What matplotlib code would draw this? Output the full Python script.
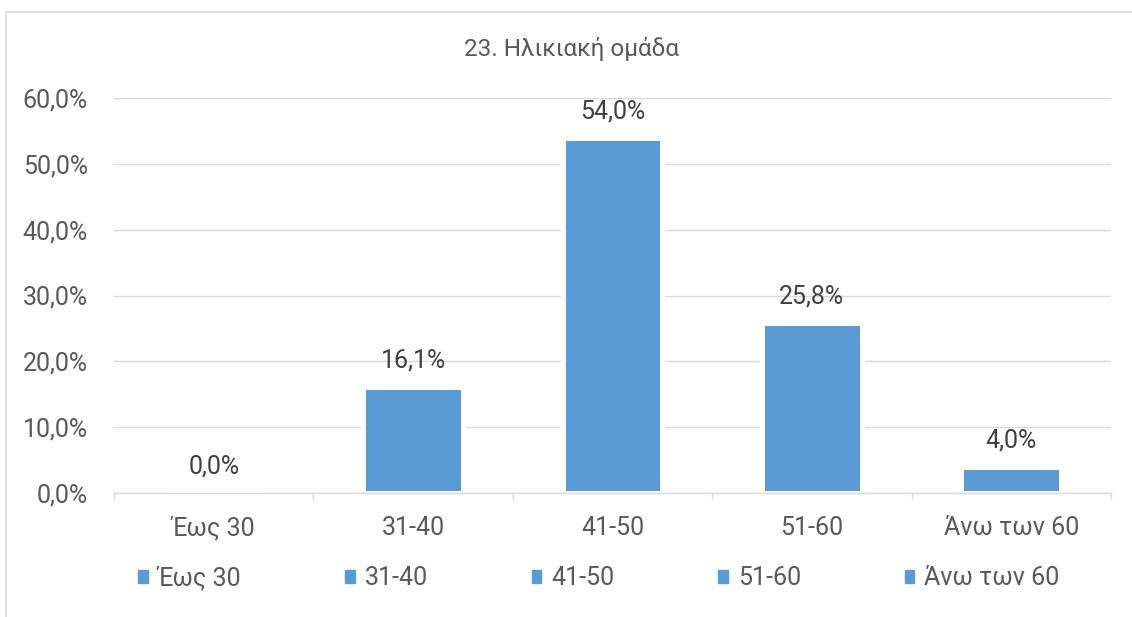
import matplotlib
matplotlib.use("Agg")
import matplotlib.pyplot as plt
import matplotlib.patches as mpatches
from matplotlib.ticker import FuncFormatter

plt.rcParams['font.family'] = ['Roboto', 'DejaVu Sans']

# age groups and share of respondents (%)
categories = ["Έως 30", "31-40", "41-50", "51-60", "Άνω των 60"]
values = [0.0, 16.1, 54.0, 25.8, 4.0]
y_ticks = [0, 10, 20, 30, 40, 50, 60]
title = "23. Ηλικιακή ομάδα"

BAR = "#5B9BD5"
GRID = "#D9D9D9"
TEXT = "#595959"
LABEL = "#404040"
FS = 18

W, H = 1132, 617
fig = plt.figure(figsize=(W / 100, H / 100), dpi=100)
ax = fig.add_axes([114 / W, 124 / H, (1111 - 114) / W, (519 - 124) / H])

# chart frame (only top and left edges fall inside the image)
frame = mpatches.Rectangle((6 / W, -0.1), 1.2, (1 - 12 / H) + 0.1,
                           transform=fig.transFigure, fill=False,
                           edgecolor=GRID, lw=1.1)
fig.add_artist(frame)

x = list(range(len(categories)))
ax.bar(x, values, width=0.5, color=BAR, edgecolor="white", linewidth=3.6, zorder=1)

for i, v in zip(x, values):
    ax.annotate(f"{v:.1f}%".replace(".", ","), xy=(i, v), xytext=(0, 19),
                textcoords="offset points", ha="center", va="center",
                fontsize=FS, color=LABEL)

ax.set_xlim(-0.5, len(categories) - 0.5)
ax.set_ylim(0, 60)
ax.set_yticks(y_ticks)
ax.yaxis.set_major_formatter(FuncFormatter(lambda v, _: f"{v:.1f}%".replace(".", ",")))
ax.yaxis.grid(True, color=GRID, lw=1.0)
ax.set_axisbelow(True)

ax.set_xticks(x)
ax.set_xticklabels(categories)
ax.set_xticks([i - 0.5 for i in range(len(categories) + 1)], minor=True)
ax.tick_params(axis="x", which="major", length=0, pad=16.3, labelsize=FS, labelcolor=TEXT)
ax.tick_params(axis="x", which="minor", length=5, width=1.0, color=GRID)
ax.tick_params(axis="y", length=0, pad=18.7, labelsize=FS, labelcolor=TEXT)

for side in ("left", "top", "right"):
    ax.spines[side].set_visible(False)
ax.spines["bottom"].set_color(GRID)
ax.spines["bottom"].set_linewidth(1.0)

fig.text(571.5 / W, 1 - 49 / H, title, ha="center", va="center",
         fontsize=17.5, color=TEXT)

handles = [mpatches.Patch(color=BAR) for _ in categories]
fig.legend(handles, categories, loc="center", bbox_to_anchor=(599 / W, 1 - 578 / H),
           ncol=len(categories), frameon=False, fontsize=FS, labelcolor=TEXT,
           handlelength=0.375, handleheight=0.375, handletextpad=0.4,
           columnspacing=4.16, borderpad=0, borderaxespad=0)

fig.savefig("out.png", dpi=100)
